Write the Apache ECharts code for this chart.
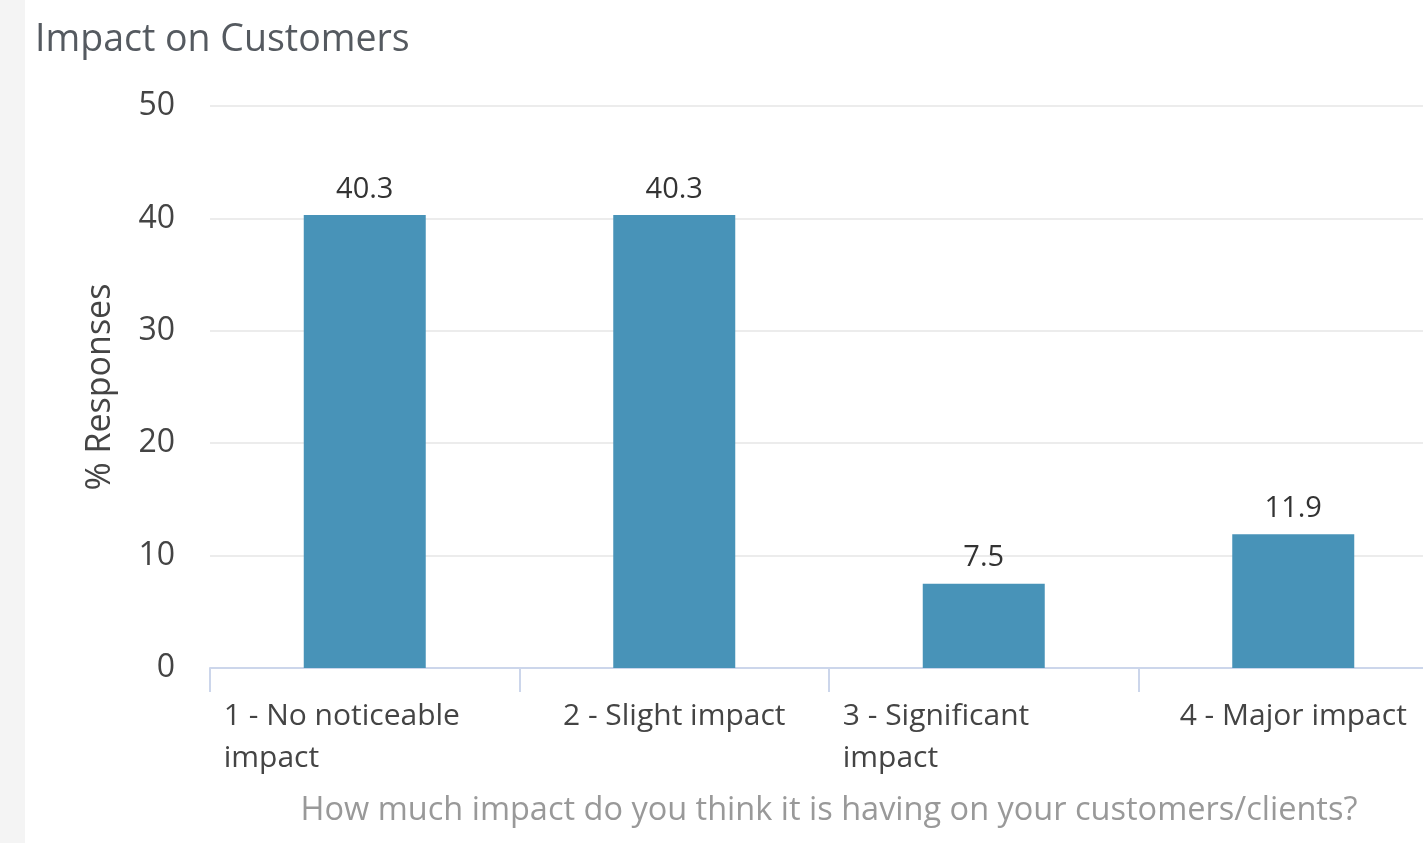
<!DOCTYPE html>
<html>
	<head>
		<meta charset="utf-8">
		<title>Impact on Customers</title>
		<style>
			body { margin: 0; overflow: hidden; background: #fff; }
			#strip { position: absolute; left: 0; top: 0; width: 25px; height: 843px; background: #f4f4f4; }
			#container { position: absolute; left: 0; top: 0; width: 1448px; height: 843px; }
		</style>
	</head>
	<body>
		<div id="strip"></div>
		<!-- chart area is a bit wider than the window: the last category is cut on the right -->
		<div id="container"></div>
	</body>
	<script src="https://cdn.jsdelivr.net/npm/echarts@6/dist/echarts.min.js"></script>
	<script type="text/javascript">
		'use strict'
		// categories (line breaks as in the picture)
		var categories = ['1 - No noticeable\nimpact', '2 - Slight impact', '3 - Significant\nimpact', '4 - Major impact'];
		// % responses
		var values = [40.3, 40.3, 7.5, 11.9];
		var yTicks = [0, 10, 20, 30, 40, 50];

		var myCharts = echarts.init(document.getElementById('container'));
		var font = '"Open Sans", "Noto Sans", sans-serif';

		var option = {
			animation: false,
			title: {
				text: 'Impact on Customers',
				left: 30,
				top: 16,
				textStyle: { color: '#555a60', fontSize: 37.5, fontWeight: 'normal', fontFamily: font }
			},
			grid: { left: 210, right: 0, top: 106, bottom: 175 },
			xAxis: {
				type: 'category',
				data: categories,
				name: 'How much impact do you think it is having on your customers/clients?',
				nameLocation: 'middle',
				nameGap: 126,
				nameTextStyle: { color: '#999', fontSize: 32.5, fontFamily: font },
				axisLine: { lineStyle: { color: '#ccd6eb', width: 2 } },
				axisTick: { show: true, interval: 0, length: 24, lineStyle: { color: '#ccd6eb', width: 2 } },
				axisLabel: {
					interval: 0,
					margin: 27,
					color: '#444',
					fontSize: 30,
					fontFamily: font,
					lineHeight: 42,
					// wrapped labels are left aligned in a fixed box, single lines centred
					formatter: function (v) {
						if (v.indexOf('\n') < 0) return v;
						return v.split('\n').map(function (s) { return '{w|' + s + '}'; }).join('\n');
					},
					rich: {
						w: { width: 282, align: 'left', color: '#444', fontSize: 30, fontFamily: font, lineHeight: 42 }
					}
				}
			},
			yAxis: {
				type: 'value',
				min: yTicks[0],
				max: yTicks[yTicks.length - 1],
				interval: 10,
				name: '% Responses',
				nameLocation: 'middle',
				nameGap: 93,
				nameTextStyle: { color: '#444', fontSize: 34, fontFamily: font },
				axisLabel: { margin: 35, color: '#444', fontSize: 32, fontFamily: font },
				splitLine: { lineStyle: { color: '#ececec', width: 2 } }
			},
			series: [{
				type: 'bar',
				data: values,
				barWidth: 122,
				itemStyle: { color: '#4893b8' },
				label: {
					show: true,
					position: 'top',
					distance: 11,
					color: '#333',
					fontSize: 29,
					fontFamily: font
				}
			}]
		}
		myCharts.setOption(option);
	</script>
</html>
